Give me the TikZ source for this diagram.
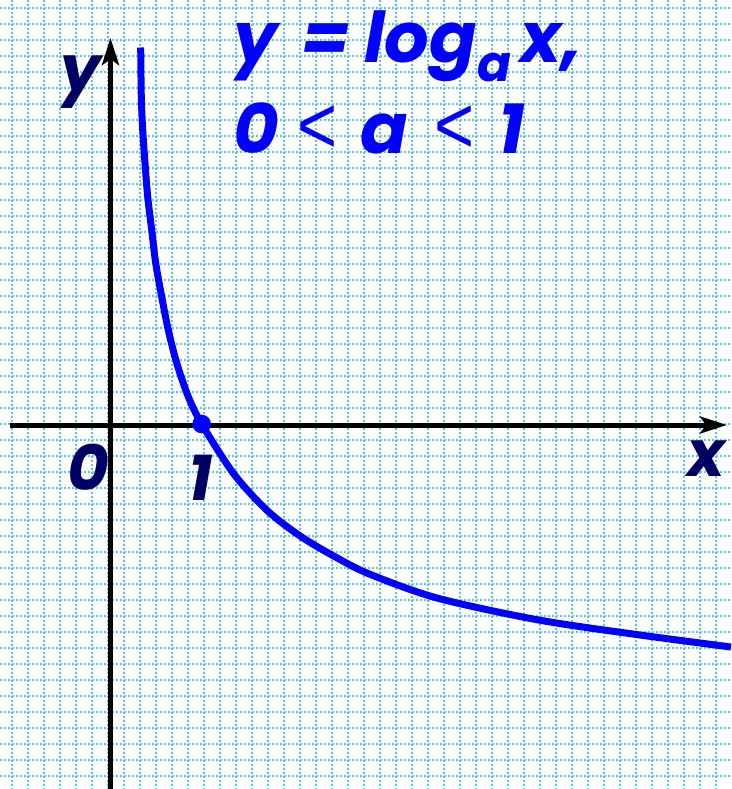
\documentclass[tikz,border=0pt]{standalone}
\usepackage{fontspec}
\usepackage{graphicx}
\newfontfamily\pop{Poppins}
\newfontfamily\lib{Liberation Sans}
\usetikzlibrary{arrows.meta}
\definecolor{gridblue}{RGB}{90,195,245}
\definecolor{navy}{RGB}{0,0,100}
\definecolor{pureblue}{RGB}{0,0,255}
\tikzset{
  gridline/.style={gridblue, line width=2pt, dash pattern=on 2pt off 2pt},
  axis/.style={black, line width=5pt, -{Stealth[length=27pt,width=17pt,inset=6pt]}},
  curve/.style={pureblue, line width=7pt},
  lbl/.style={navy, inner sep=0pt, anchor=base west, font=\pop\bfseries\itshape\fontsize{64}{64}\selectfont},
  ttl/.style={pureblue, inner sep=0pt, anchor=base west, font=\pop\bfseries\itshape\fontsize{70}{70}\selectfont},
  ttlsub/.style={ttl, font=\pop\bfseries\itshape\fontsize{50}{50}\selectfont},
  ttlrel/.style={pureblue, inner sep=0pt, anchor=base west, font=\lib\fontsize{78}{78}\selectfont}
}
\newcommand{\ltsign}{\scalebox{0.88}[1.05]{<}}
\begin{document}
\begin{tikzpicture}[x=1pt,y=-1pt]
\useasboundingbox (0,0) rectangle (731,789);
\fill[white] (0,0) rectangle (731,789);
% grid
\foreach \gx in {0,...,44} { \draw[gridline] ({12+16*\gx},0) -- ({12+16*\gx},789); }
\foreach \gy in {0,...,48} { \draw[gridline] (0,{8+16*\gy}) -- (731,{8+16*\gy}); }
% axes
\coordinate (xs) at (10,425);
\coordinate (xe) at (727,425);
\coordinate (ys) at (110.5,789);
\coordinate (ye) at (110.5,38);
\draw[axis] (xs) -- (xe);
\draw[axis] (ys) -- (ye);
% curve
\coordinate (p1) at (201.7,424);
\draw[curve] plot[smooth] coordinates {
 (140.7,47.5) (141.3,96.7) (142.7,130) (145,163) (147.7,196.7) (151.7,230)
 (155.7,263) (161.7,296.7) (168.3,330) (176.7,363) (188.3,396.7) (201.7,424)
 (233.9,474) (267.7,511) (301.6,537) (335.5,557) (369.3,574) (437,598)
 (538.6,620) (640,635) (731,647)};
\fill[pureblue] (p1) circle (9.3);
% labels
\node[lbl] (ly) at (60,92) {y};
\node[lbl] (lx) at (687,476.7) {x};
\node[lbl] (l0) at (67,490) {0};
\node[lbl] (l1) at (188,500) {1};
% title line 1
\node[ttl] (t1y) at (233,63) {y};
\node[ttl] (t1eq) at (301,63) {=};
\node[ttl] (t1log) at (364,63) {log};
\node[ttlsub] (t1a) at (477,82) {a};
\node[ttl] (t1x) at (520,63) {x,};
% title line 2
\node[ttl] (t20) at (233,153) {0};
\node[ttlrel] (t2lt1) at (297,153) {\ltsign};
\node[ttl] (t2a) at (360,153) {a};
\node[ttlrel] (t2lt2) at (434,153) {\ltsign};
\node[ttl] (t21) at (498,153) {1};
\end{tikzpicture}
\end{document}
